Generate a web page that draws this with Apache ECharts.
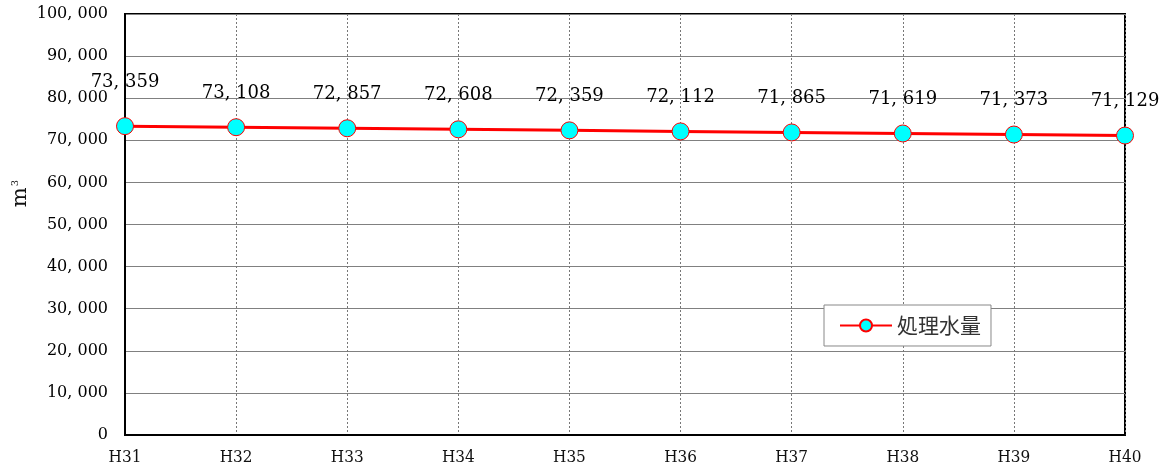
<!DOCTYPE html>
<html>
<head>
<meta charset="utf-8">
<script src="https://cdn.jsdelivr.net/npm/echarts@6/dist/echarts.min.js"></script>
<style>
  html, body { margin: 0; padding: 0; background: #fff; }
  #chart { width: 1168px; height: 472px; }
</style>
</head>
<body>
<div id="chart"></div>
<script>
// Fiscal years (Heisei 31 - 40)
const years = ['H31', 'H32', 'H33', 'H34', 'H35', 'H36', 'H37', 'H38', 'H39', 'H40'];
// Treated water volume (m3)
const treatedVolume = [73359, 73108, 72857, 72608, 72359, 72112, 71865, 71619, 71373, 71129];
const seriesName = '処理水量';

const serif = '"DejaVu Serif", "Liberation Serif", serif';

function fmt(v) {
  const s = String(v);
  if (s.length <= 3) return s;
  return s.slice(0, s.length - 3) + ', ' + s.slice(s.length - 3);
}

const chart = echarts.init(document.getElementById('chart'));

chart.setOption({
  animation: false,
  backgroundColor: '#fff',
  grid: {
    left: 125, right: 43, top: 14, bottom: 37,
    show: true, borderColor: '#000', borderWidth: 2, backgroundColor: 'transparent'
  },
  legend: {
    data: [seriesName],
    left: 824, top: 305,
    orient: 'horizontal',
    backgroundColor: '#fff',
    borderColor: '#888', borderWidth: 1, borderRadius: 0,
    padding: [10, 10, 10, 15],
    itemWidth: 52, itemHeight: 15, itemGap: 6,
    textStyle: { fontFamily: '"Noto Sans CJK JP", sans-serif', fontSize: 21, color: '#333' }
  },
  // unit label on the value axis: m with superscript 3, reading upward
  graphic: [{
    type: 'text',
    left: 10, top: 180,
    rotation: Math.PI / 2,
    style: {
      text: 'm{sup|3}',
      fontFamily: serif, fontSize: 21, fill: '#111',
      rich: { sup: { fontFamily: serif, fontSize: 10, fill: '#111', padding: [0, 0, 11, 1] } }
    }
  }],
  xAxis: {
    type: 'category',
    data: years,
    boundaryGap: false,
    axisLine: { lineStyle: { color: '#000', width: 2 } },
    axisTick: { show: false },
    axisLabel: { fontFamily: '"DejaVu Serif Condensed", "Liberation Serif", serif', fontSize: 17, color: '#111', margin: 14 },
    splitLine: { show: true, lineStyle: { color: '#777', width: 1, type: [2, 2] } }
  },
  yAxis: {
    type: 'value',
    min: 0, max: 100000, interval: 10000,
    axisLine: { show: true, lineStyle: { color: '#000', width: 2 } },
    axisTick: { show: false },
    axisLabel: { fontFamily: serif, fontSize: 16, color: '#000', margin: 17, formatter: fmt },
    splitLine: { show: true, lineStyle: { color: '#808080', width: 1 } }
  },
  series: [{
    name: seriesName,
    type: 'line',
    data: treatedVolume.map((v, i) => i === 0
      ? { value: v, label: { offset: [0, -10] } }
      : v),
    symbol: 'circle',
    symbolSize: 17,
    lineStyle: { color: '#ff0000', width: 3 },
    itemStyle: { color: '#00ffff', borderColor: '#ff0000', borderWidth: 1 },
    label: {
      show: true,
      position: 'top',
      distance: 16,
      fontFamily: serif, fontSize: 18, color: '#000',
      formatter: p => fmt(p.value)
    },
    z: 5
  }]
});
</script>
</body>
</html>
